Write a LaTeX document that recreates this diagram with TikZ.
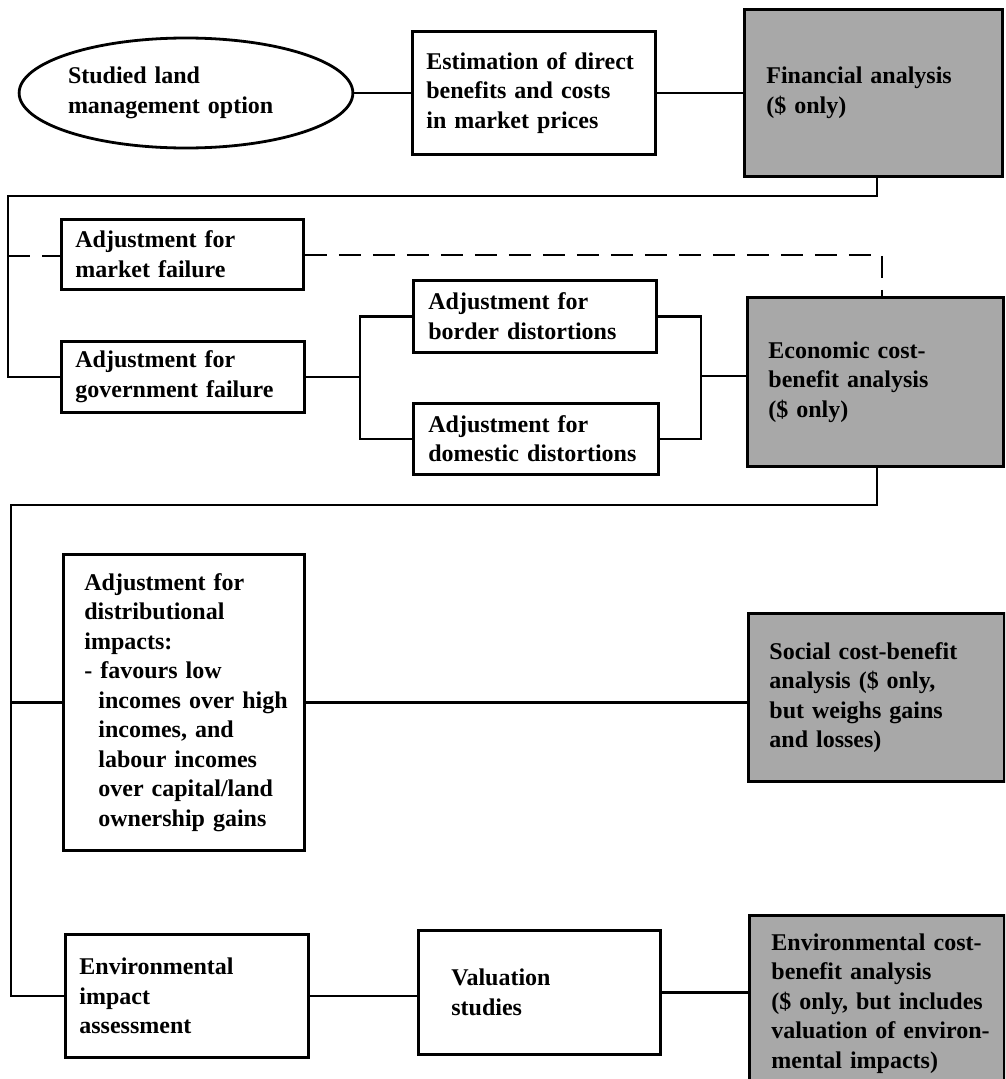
\documentclass[tikz,border=0pt]{standalone}
\usepackage{fontspec}
\setmainfont{Liberation Serif}
\usetikzlibrary{shapes.geometric}
\begin{document}
\begin{tikzpicture}[x=1pt,y=-1pt,
  every node/.style={font=\fontsize{24}{29.5}\selectfont\bfseries},
  bx/.style={draw=black, line width=2.8pt, rectangle, inner sep=0pt, align=left, anchor=north west},
  gbx/.style={bx, fill=black!34},
  conn/.style={draw=black, line width=2.8pt},
  dl/.style={draw=black, line width=2.8pt, dash pattern=on 22pt off 12pt}]
\useasboundingbox (0,0) rectangle (1005,1079);
\clip (0,0) rectangle (1005,1079);

% nodes
\node[draw, ellipse, line width=2.8pt, minimum width=332pt, minimum height=110pt, inner sep=0pt, text width=236pt, align=left] (opt) at (186,93) {Studied land\\management option};
\node[bx, text width=243pt, minimum height=123pt] (est) at (411,30) {\leftskip=14pt Estimation of direct\\benefits and costs\\in market prices\par};
\node[gbx, text width=258pt, minimum height=167pt] (fin) at (743,8) {\leftskip=22pt Financial analysis\\(\$ only)\par};
\node[bx, text width=242pt, minimum height=70pt] (mkt) at (60,218) {\leftskip=14pt Adjustment for\\market failure\par};
\node[bx, text width=243pt, minimum height=71pt] (gov) at (60,340) {\leftskip=14pt Adjustment for\\government failure\par};
\node[bx, text width=243pt, minimum height=72pt] (bor) at (412,279) {\leftskip=15pt Adjustment for\\border distortions\par};
\node[bx, text width=245pt, minimum height=71pt] (dom) at (412,402) {\leftskip=15pt Adjustment for\\domestic distortions\par};
\node[gbx, text width=256pt, minimum height=169pt] (eco) at (746,296) {\leftskip=21pt Economic cost-\\benefit analysis\\(\$ only)\par};
\node[bx, text width=241pt, minimum height=296pt] (dist) at (62,553) {\leftskip=21pt Adjustment for\\distributional\\impacts:\\- favours low\\\hspace*{14pt}incomes over high\\\hspace*{14pt}incomes, and\\\hspace*{14pt}labour incomes\\\hspace*{14pt}over capital/land\\\hspace*{14pt}ownership gains\par};
\node[gbx, text width=256pt, minimum height=168pt] (soc) at (747,612) {\leftskip=21pt Social cost-benefit\\analysis (\$ only,\\but weighs gains\\and losses)\par};
\node[bx, text width=243pt, minimum height=123pt] (env) at (64,933) {\leftskip=14pt Environmental\\impact\\assessment\par};
\node[bx, text width=242pt, minimum height=124pt] (val) at (417,929) {\leftskip=33pt Valuation\\studies\par};
\node[gbx, text width=255pt, minimum height=176pt] (ecb) at (748,914) {\leftskip=22pt Environmental cost-\\benefit analysis\\(\$ only, but includes\\valuation of environ-\\mental impacts)\par};

% junction coordinates
\coordinate (a1) at (877,196);
\coordinate (a2) at (8,196);
\coordinate (d1) at (8,256);
\coordinate (d2) at (882,255);
\coordinate (g1) at (360,377);
\coordinate (g2) at (701,376);
\coordinate (b1) at (877,505);
\coordinate (b2) at (11,505);

% connectors
\draw[conn] (opt.east) -- (opt.east -| est.west);
\draw[conn] (est.east) -- (est.east -| fin.west);
\draw[conn] (a1 |- fin.south) -- (a1) -- (a2) |- (gov.west);
\draw[dl] (d1) -- (d1 -| mkt.west);
\draw[dl] (mkt.east |- d2) -- (d2) -- (d2 |- eco.north);
\draw[conn] (gov.east) -- (gov.east -| g1);
\draw[conn] (bor.west) -| (g1) |- (dom.west);
\draw[conn] (bor.east) -| (g2) |- (dom.east);
\draw[conn] (g2) -- (g2 -| eco.west);
\draw[conn] (b1 |- eco.south) -- (b1) -- (b2) |- (env.west);
\draw[conn] (b2 |- dist.west) -- (dist.west);
\draw[conn] (dist.east) -- (dist.east -| soc.west);
\draw[conn] (env.east) -- (env.east -| val.west);
\draw[conn] (val.east) -- (val.east -| ecb.west);
\end{tikzpicture}
\end{document}
